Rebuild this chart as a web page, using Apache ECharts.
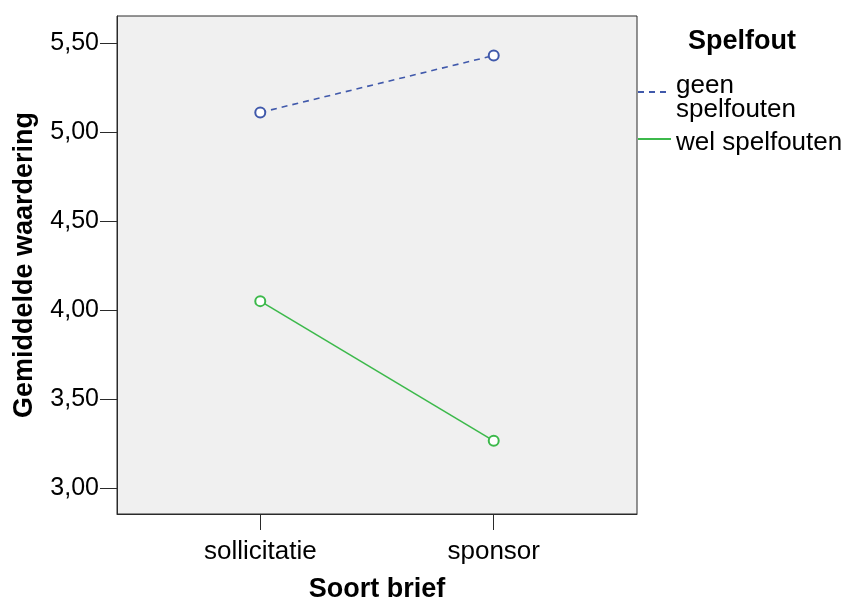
<!DOCTYPE html>
<html>
<head>
<meta charset="utf-8">
<script src="https://cdn.jsdelivr.net/npm/echarts@6/dist/echarts.min.js"></script>
<style>html,body{margin:0;padding:0;background:#fff;}#c{width:846px;height:599px;}</style>
</head>
<body>
<div id="c"></div>
<script>
var categories = ['sollicitatie', 'sponsor'];
var seriesNames = ['geen spelfouten', 'wel spelfouten'];
var geenValues = [5.11, 5.43];
var welValues = [4.05, 3.265];
var yTicks = [3.0, 3.5, 4.0, 4.5, 5.0, 5.5];
var legendTitle = 'Spelfout';
var xTitle = 'Soort brief';
var yTitle = 'Gemiddelde waardering';

var FONT = '"Liberation Sans", Arial, sans-serif';
var BLUE = '#4059ab';
var GREEN = '#3cb94b';

function pts(vals) { return vals.map(function (v, i) { return [i, v]; }); }

var chart = echarts.init(document.getElementById('c'));
chart.setOption({
  animation: false,
  backgroundColor: '#ffffff',
  title: {
    text: legendTitle, left: 688, top: 28, padding: 0,
    textStyle: { fontFamily: FONT, fontSize: 27, fontWeight: 'bold', color: '#000', lineHeight: 27 }
  },
  legend: {
    orient: 'vertical', left: 637, top: 63, padding: 0, itemGap: -1,
    itemWidth: 33, itemHeight: 14,
    itemStyle: { opacity: 0 },
    textStyle: {
      fontFamily: FONT, fontSize: 26, color: '#000', lineHeight: 22,
      rich: {
        a: { fontFamily: FONT, fontSize: 26, color: '#000', lineHeight: 36, verticalAlign: 'bottom' },
        b: { fontFamily: FONT, fontSize: 26, color: '#000', lineHeight: 22 },
        c: { fontFamily: FONT, fontSize: 26, color: '#000', lineHeight: 34, verticalAlign: 'bottom' }
      }
    },
    formatter: function (n) {
      return n === seriesNames[0] ? '{a|geen}\n{b|spelfouten}' : '{c|' + n + '}';
    },
    data: [seriesNames[0], seriesNames[1]]
  },
  grid: {
    left: 117, top: 16, right: 209, bottom: 85,
    outerBoundsMode: 'none', containLabel: false,
    show: true, backgroundColor: '#f0f0f0', borderColor: '#2a2a2a', borderWidth: 1
  },
  xAxis: {
    type: 'value', min: -0.6137, max: 1.6137,
    splitLine: { show: false },
    axisLine: { show: true, onZero: false, lineStyle: { color: '#2a2a2a', width: 1 } },
    axisTick: { show: true, length: 16, customValues: [0, 1], lineStyle: { color: '#2a2a2a' } },
    axisLabel: {
      customValues: [0, 1], margin: 25,
      fontFamily: FONT, fontSize: 26, color: '#000',
      formatter: function (v) { return categories[Math.round(v)]; }
    },
    name: xTitle, nameLocation: 'middle', nameGap: 62,
    nameTextStyle: { fontFamily: FONT, fontSize: 27, fontWeight: 'bold', color: '#000' }
  },
  yAxis: {
    type: 'value', min: 2.854, max: 5.652,
    splitLine: { show: false },
    axisLine: { show: true, onZero: false, lineStyle: { color: '#2a2a2a', width: 1 } },
    axisTick: { show: true, length: 17, customValues: yTicks, lineStyle: { color: '#2a2a2a' } },
    axisLabel: {
      customValues: yTicks, margin: 18,
      fontFamily: FONT, fontSize: 25, color: '#000',
      formatter: function (v) { return v.toFixed(2).replace('.', ','); }
    },
    name: yTitle, nameLocation: 'middle', nameGap: 79,
    nameTextStyle: { fontFamily: FONT, fontSize: 27, fontWeight: 'bold', color: '#000' }
  },
  series: [
    {
      name: seriesNames[0], type: 'line', data: pts(geenValues),
      symbol: 'emptyCircle', symbolSize: 10,
      itemStyle: { color: BLUE, borderWidth: 1.2 },
      lineStyle: { color: BLUE, width: 1.6, type: [6, 5] }
    },
    {
      name: seriesNames[1], type: 'line', data: pts(welValues),
      symbol: 'emptyCircle', symbolSize: 10,
      itemStyle: { color: GREEN, borderWidth: 1.2 },
      lineStyle: { color: GREEN, width: 1.6 }
    }
  ]
});
</script>
</body>
</html>
